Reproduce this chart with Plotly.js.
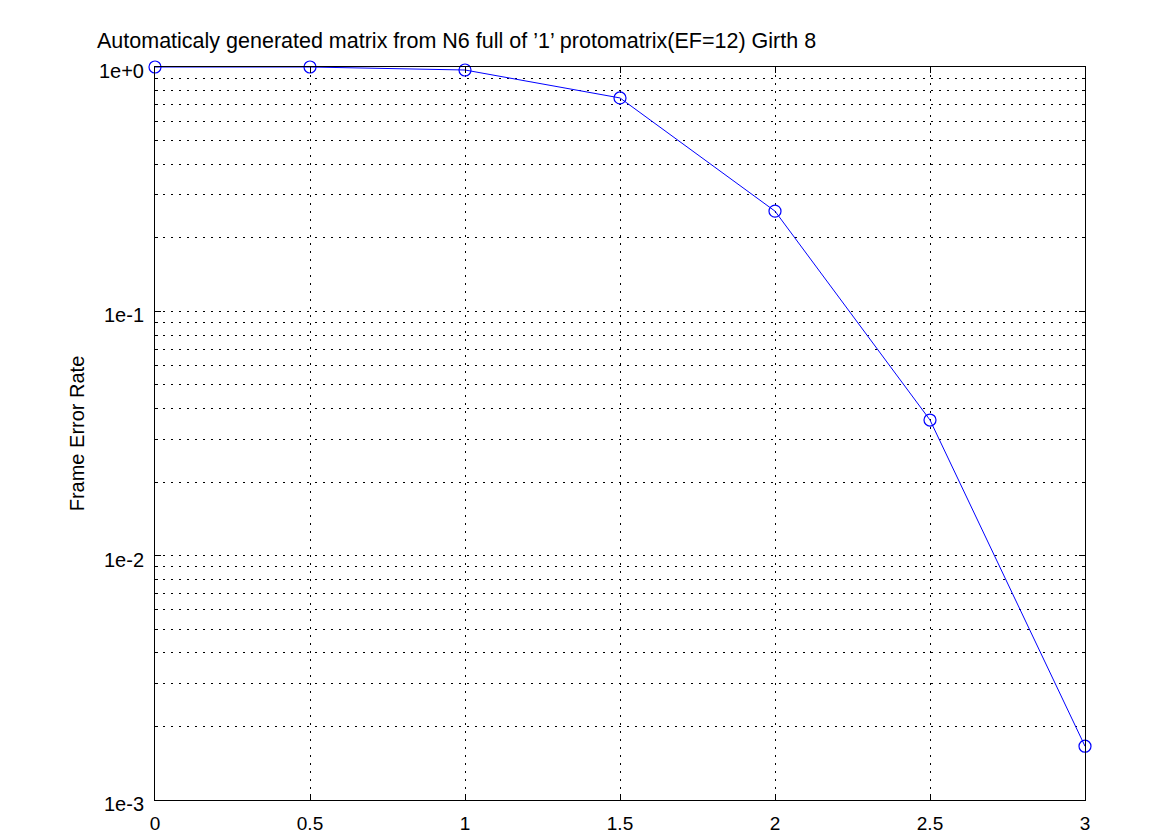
<!DOCTYPE html>
<html>
<head>
<meta charset="utf-8">
<script src="https://cdn.plot.ly/plotly-3.0.1.min.js"></script>
<style>html,body{margin:0;padding:0;background:#fff;}#chart{width:1175px;height:835px;}</style>
</head>
<body>
<div id="chart"></div>
<script>
const ebno = [0, 0.5, 1, 1.5, 2, 2.5, 3];
const fer = [1.0, 1.0, 0.972, 0.747, 0.257, 0.0359, 0.00166];
const xTickVals = [0, 0.5, 1, 1.5, 2, 2.5, 3];
const xTickText = ['0', '0.5', '1', '1.5', '2', '2.5', '3'];
const yTickVals = [1, 0.1, 0.01, 0.001];
const yTickText = ['1e+0', '1e-1', '1e-2', '1e-3'];
const chartTitle = 'Automaticaly generated matrix from N6 full of ’1’ protomatrix(EF=12) Girth 8';
const yTitle = 'Frame Error Rate';

const fontFam = '"Liberation Sans", Arial, sans-serif';
const trace = {
  x: ebno, y: fer, type: 'scatter', mode: 'lines+markers',
  line: {color: '#0000ff', width: 1},
  marker: {symbol: 'circle-open', size: 12, color: '#0000ff', line: {width: 1.2, color: '#0000ff'}},
  cliponaxis: false, showlegend: false
};
const layout = {
  width: 1175, height: 835,
  margin: {l: 155, r: 90, t: 67, b: 35},
  paper_bgcolor: '#fff', plot_bgcolor: '#fff',
  font: {family: fontFam, size: 20, color: '#000'},
  title: {text: chartTitle, x: 97/1175, xanchor: 'left', xref: 'container', y: 1 - 40/835, yref: 'container', yanchor: 'middle', font: {size: 21.5, family: fontFam, color: '#000'}},
  xaxis: {
    range: [0, 3], tickvals: xTickVals, ticktext: xTickText,
    showline: true, linecolor: '#000', linewidth: 1, mirror: 'allticks',
    ticks: 'inside', ticklen: 6, tickcolor: '#000',
    showgrid: true, gridcolor: '#000', gridwidth: 1, griddash: '2px,6px',
    zeroline: false, tickfont: {size: 19}, ticklabelstandoff: 6
  },
  yaxis: {
    type: 'log', range: [-3, 0], tickvals: yTickVals, ticktext: yTickText,
    showline: true, linecolor: '#000', linewidth: 1, mirror: 'allticks',
    ticks: 'inside', ticklen: 6, tickcolor: '#000',
    showgrid: true, gridcolor: '#000', gridwidth: 1, griddash: '2px,6px',
    zeroline: false, tickfont: {size: 20}, ticklabelstandoff: 6, ticklabelshift: 4,
    minor: {dtick: 'D1', showgrid: true, gridcolor: '#000', gridwidth: 1, griddash: '2px,6px', ticks: 'inside', ticklen: 3, tickcolor: '#000'},
    title: {text: yTitle, standoff: 8, font: {size: 20}}
  }
};
Plotly.newPlot('chart', [trace], layout, {staticPlot: true});
</script>
</body>
</html>
